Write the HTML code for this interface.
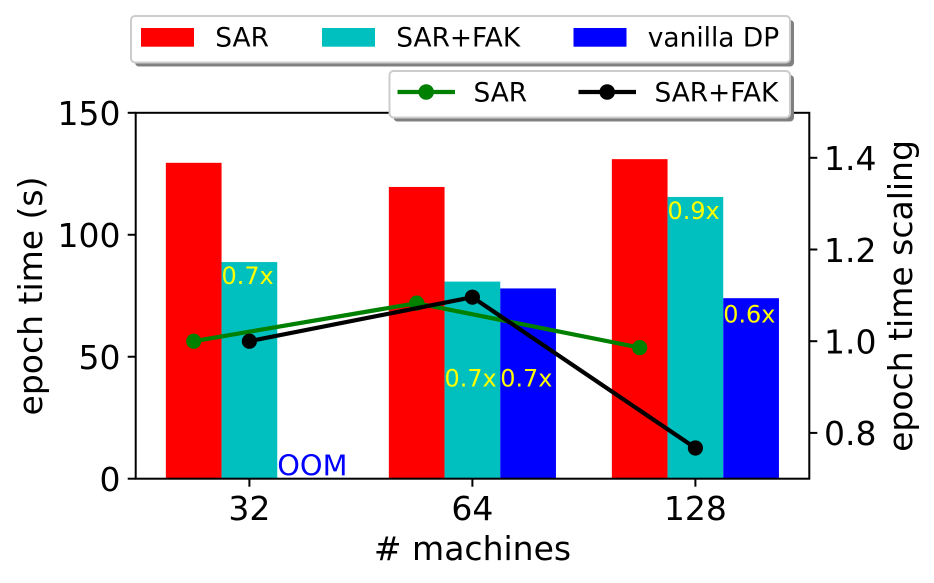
<!DOCTYPE html>
<html>
<head>
<meta charset="utf-8">
<style>
html,body{margin:0;padding:0;background:#fff;}
svg{display:block;font-family:"DejaVu Sans","Liberation Sans",sans-serif;}
</style>
</head>
<body>
<svg id="chart" xmlns="http://www.w3.org/2000/svg" width="934" height="583" viewBox="0 0 934 583"></svg>
<script>
const categories = ['32', '64', '128'];
const sarTimes = [129.5, 119.6, 131];
const sarFakTimes = [88.8, 80.8, 115.5];
const vanillaTimes = [null, 78, 74];
const sarScaling = [1.0, 1.083, 0.986];
const sarFakScaling = [1.0, 1.096, 0.767];
const leftTicks = [0, 50, 100, 150];
const rightTicks = [0.8, 1.0, 1.2, 1.4];
const annotationLabels = ['0.7x', '0.7x', '0.7x', '0.9x', '0.6x'];
const annotationGroups = [0, 1, 1, 2, 2];
const annotationSeries = [1, 1, 2, 1, 2];
const annotationValues = [79.8, 37.8, 37.8, 106.5, 64.0];

const NS = 'http://www.w3.org/2000/svg';
const svg = document.getElementById('chart');
const plot = {left: 135.7, right: 809.3, top: 112.8, bottom: 478.7};
const groupStep = 223;
const barWidth = 55.7;
const firstCenter = 249.4;
const axisFont = 33;
const legendFont = 26.4;

function xCenter(i) { return firstCenter + i * groupStep; }
function barLeft(i, s) { return xCenter(i) + (s - 1.5) * barWidth; }
function yLeft(v) { return plot.bottom - v * (plot.bottom - plot.top) / 150; }
function yRight(v) { return 341.2 - (v - 1.0) * 458.5; }

function make(tag, attrs, text) {
  const el = document.createElementNS(NS, tag);
  for (const k in attrs) el.setAttribute(k, attrs[k]);
  if (text !== undefined) el.textContent = text;
  svg.appendChild(el);
  return el;
}

function drawBars(values, s, color, name) {
  values.forEach((v, i) => {
    if (v === null) return;
    const el = make('rect', {x: barLeft(i, s), y: yLeft(v), width: barWidth, height: plot.bottom - yLeft(v), fill: color});
    
    
  });
}
drawBars(sarTimes, 0, '#ff0000', 'sar');
drawBars(sarFakTimes, 1, '#00bfbf', 'sar-fak');
drawBars(vanillaTimes, 2, '#0000ff', 'vanilla-dp');

annotationLabels.forEach((label, k) => {
  const el = make('text', {
    x: barLeft(annotationGroups[k], annotationSeries[k]),
    y: yLeft(annotationValues[k]),
    fill: '#ffff00', 'font-size': 23.9
  }, label);
  
  
});

const oom = make('text', {x: barLeft(0, 2), y: 475.3, fill: '#0000ff', 'font-size': 28.8}, 'OOM');



function drawLine(values, s, color, name) {
  const pts = values.map((v, i) => (barLeft(i, s) + barWidth / 2) + ',' + yRight(v)).join(' ');
  const line = make('polyline', {points: pts, fill: 'none', stroke: color, 'stroke-width': 4.2, 'stroke-linejoin': 'round'});
  
  
  values.forEach((v, i) => {
    const dot = make('circle', {cx: barLeft(i, s) + barWidth / 2, cy: yRight(v), r: 7.6, fill: color});
    
    
  });
}
drawLine(sarScaling, 0, '#008000', 'sar-scaling');
drawLine(sarFakScaling, 1, '#000000', 'sar-fak-scaling');

const frame = make('rect', {x: plot.left, y: plot.top, width: plot.right - plot.left, height: plot.bottom - plot.top, fill: 'none', stroke: '#000', 'stroke-width': 2});



leftTicks.forEach(t => {
  const y = yLeft(t);
  const tick = make('line', {x1: plot.left - 8, x2: plot.left, y1: y, y2: y, stroke: '#000', 'stroke-width': 2});
  
  
  const lab = make('text', {x: 120.5, y: y + 12.3, 'text-anchor': 'end', 'font-size': axisFont, fill: '#000'}, String(t));
  
  
});
rightTicks.forEach(t => {
  const y = yRight(t);
  const tick = make('line', {x1: plot.right, x2: plot.right + 8, y1: y, y2: y, stroke: '#000', 'stroke-width': 2});
  
  
  const lab = make('text', {x: 824, y: y + 12.3, 'font-size': axisFont, fill: '#000'}, t.toFixed(1));
  
  
});
categories.forEach((c, i) => {
  const x = xCenter(i);
  const tick = make('line', {x1: x, x2: x, y1: plot.bottom, y2: plot.bottom + 8, stroke: '#000', 'stroke-width': 2});
  
  
  const lab = make('text', {x: x, y: 520, 'text-anchor': 'middle', 'font-size': axisFont, fill: '#000'}, c);
  
  
});

const xTitle = make('text', {x: 472.5, y: 560, 'text-anchor': 'middle', 'font-size': axisFont, fill: '#000'}, '# machines');


const yTitleL = make('text', {transform: 'translate(42,296) rotate(-90)', 'text-anchor': 'middle', 'font-size': axisFont, fill: '#000'}, 'epoch time (s)');


const yTitleR = make('text', {transform: 'translate(912,296) rotate(-90)', 'text-anchor': 'middle', 'font-size': axisFont, fill: '#000'}, 'epoch time scaling');



function legendBox(x, y, w, h, name) {
  const shadow = make('rect', {x: x + 4, y: y + 4, width: w, height: h, rx: 4, fill: '#808080'});
  
  
  const box = make('rect', {x: x, y: y, width: w, height: h, rx: 4, fill: '#fff', stroke: '#cccccc', 'stroke-width': 2});
  
  
}
legendBox(131, 16, 659, 46.5, 'bar-legend');
legendBox(389.5, 71, 400.5, 46.5, 'line-legend');

const barLegendLabels = ['SAR', 'SAR+FAK', 'vanilla DP'];
const barLegendColors = ['#ff0000', '#00bfbf', '#0000ff'];
const barLegendX = [141, 322, 573.5];
barLegendLabels.forEach((label, k) => {
  const sw = make('rect', {x: barLegendX[k], y: 28, width: 53, height: 18.7, fill: barLegendColors[k]});
  
  
  const t = make('text', {x: barLegendX[k] + 74.3, y: 46.7, 'font-size': legendFont, fill: '#000'}, label);
  
  
});

const lineLegendLabels = ['SAR', 'SAR+FAK'];
const lineLegendColors = ['#008000', '#000000'];
const lineLegendX = [397.5, 578.5];
lineLegendLabels.forEach((label, k) => {
  const l = make('line', {x1: lineLegendX[k], x2: lineLegendX[k] + 57.5, y1: 92, y2: 92, stroke: lineLegendColors[k], 'stroke-width': 4.2});
  
  
  const c = make('circle', {cx: lineLegendX[k] + 28.7, cy: 92, r: 7.8, fill: lineLegendColors[k]});
  
  
  const t = make('text', {x: lineLegendX[k] + 76, y: 101.7, 'font-size': legendFont, fill: '#000'}, label);
  
  
});
</script>
</body>
</html>
